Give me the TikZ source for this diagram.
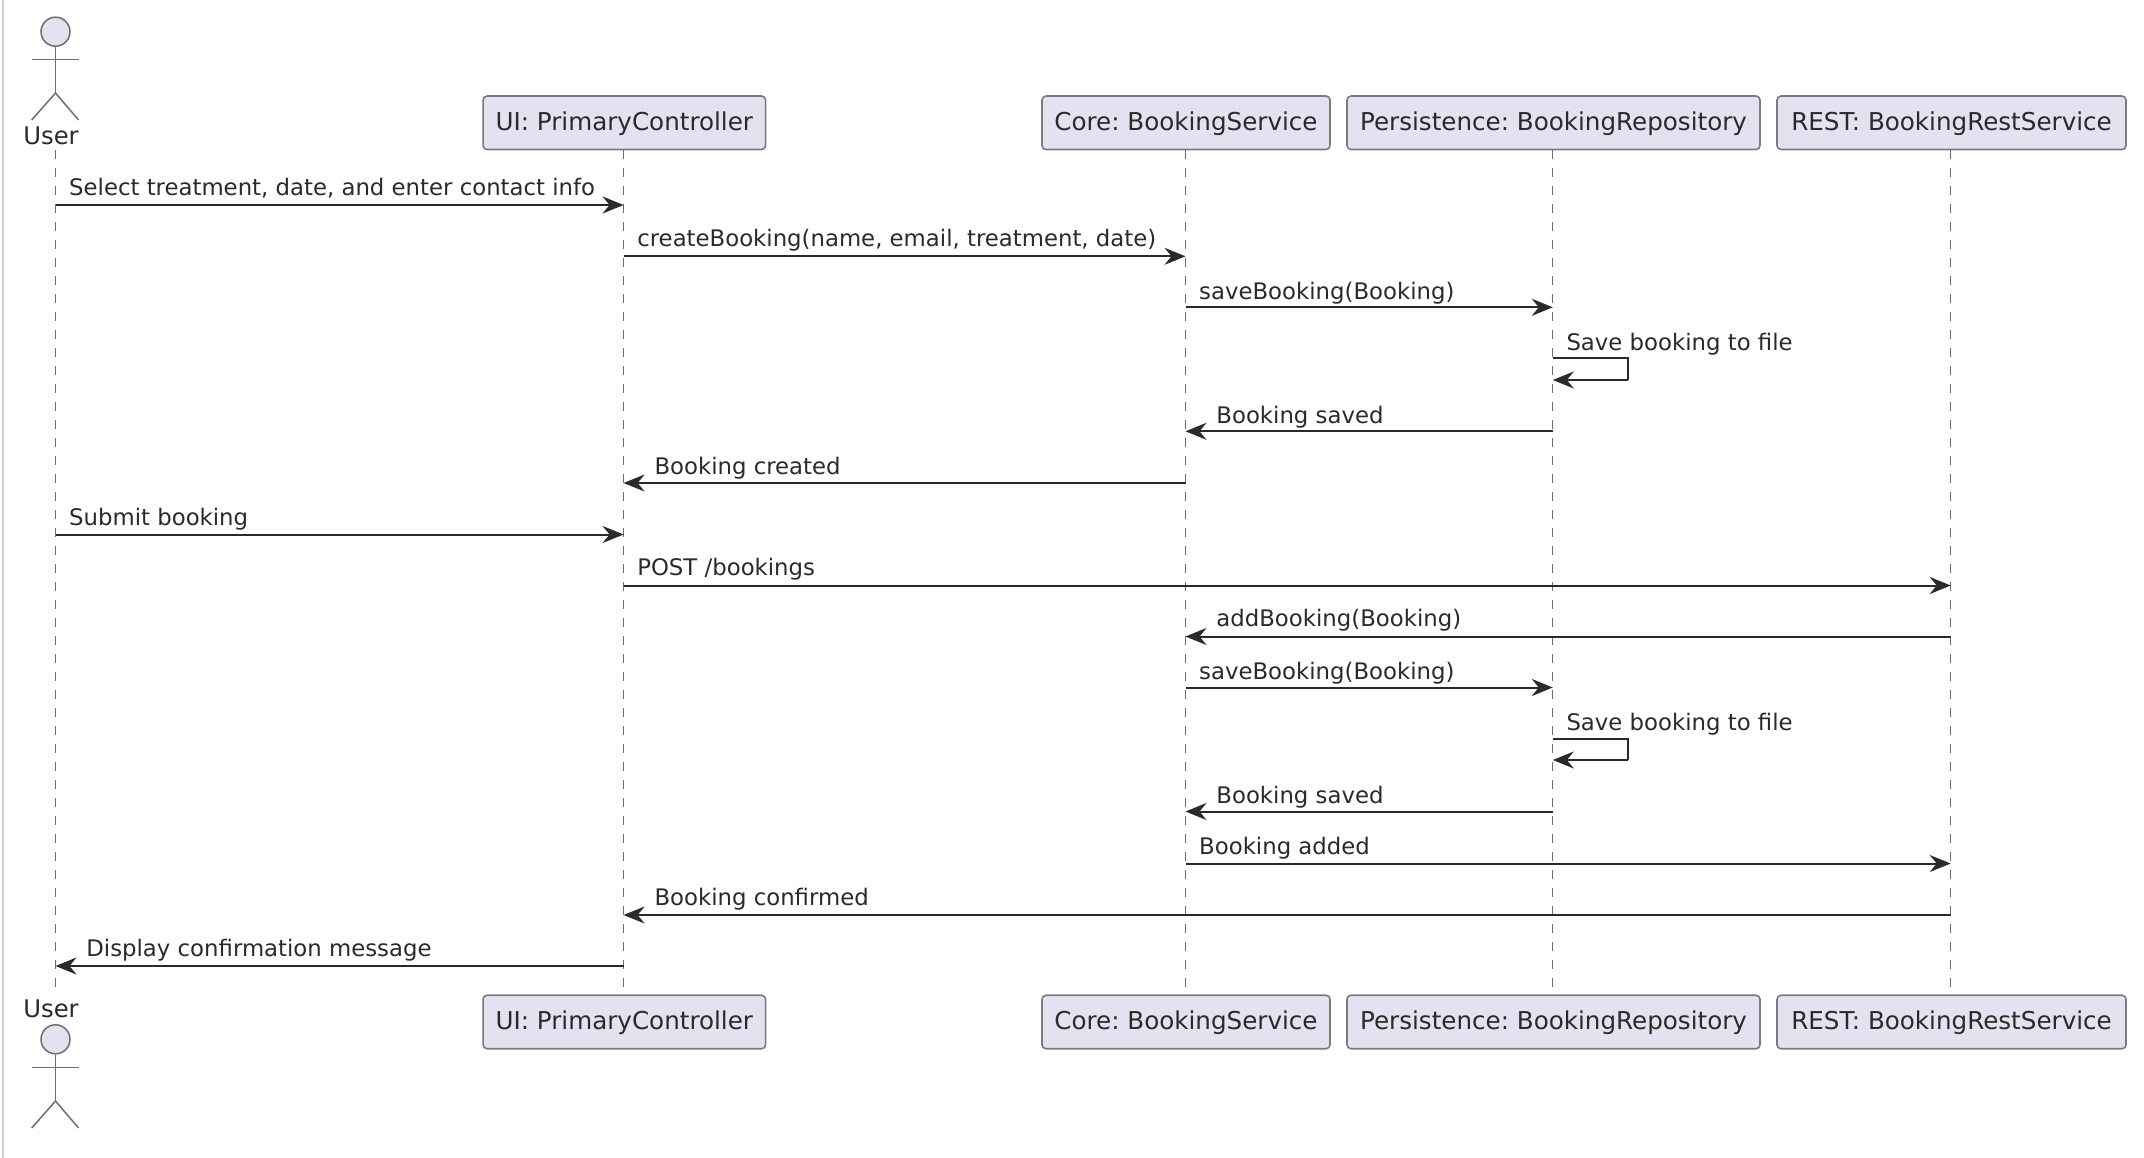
\documentclass[tikz,border=0pt]{standalone}
\usepackage{fontspec}
\setmainfont{DejaVu Sans}
\usetikzlibrary{arrows.meta}
\definecolor{boxfill}{HTML}{E2E2F0}
\definecolor{boxline}{HTML}{7A7A7F}
\definecolor{lifec}{HTML}{6E6E6E}
\definecolor{msgc}{HTML}{2A2A2A}
\definecolor{edge}{HTML}{CFCFCF}
\tikzset{
  x=1pt,y=-1pt,
  part/.style={draw=boxline,line width=1.6pt,fill=boxfill,rounded corners=4pt,inner sep=0pt,
    minimum height=53.5pt,font=\fontsize{24.6pt}{28pt}\selectfont,text=msgc,text height=20.8pt,text depth=5pt},
  life/.style={draw=lifec,line width=1.3pt,dash pattern=on 9pt off 9pt},
  msg/.style={draw=msgc,line width=2pt,-{Stealth[length=21pt,width=17pt,inset=7pt]}},
  loopl/.style={draw=msgc,line width=2pt},
  mlabel/.style={anchor=base west,inner sep=0pt,font=\fontsize{22.8pt}{27pt}\selectfont,text=msgc},
  ulabel/.style={anchor=base,inner sep=0pt,font=\fontsize{24.3pt}{28pt}\selectfont,text=msgc},
  stick/.style={draw=lifec,line width=1.5pt},
  headc/.style={circle,draw=lifec,line width=1.5pt,fill=boxfill,minimum size=29pt,inner sep=0pt},
}
\begin{document}
\frenchspacing
\begin{tikzpicture}
\useasboundingbox (0,0) rectangle (2144,1158);
\draw[draw=edge,line width=2pt] (3,0) -- (3,1158);

% participants top
\node[part,minimum width=282.5pt] (uiT) at (624.3,122.8) {UI: PrimaryController};
\node[part,minimum width=288pt] (coreT) at (1186,122.8) {Core: BookingService};
\node[part,minimum width=413pt] (perT) at (1553.5,122.8) {Persistence: BookingRepository};
\node[part,minimum width=349pt] (restT) at (1951.5,122.8) {REST: BookingRestService};
% participants bottom
\node[part,minimum width=282.5pt] (uiB) at (624.3,1022) {UI: PrimaryController};
\node[part,minimum width=288pt] (coreB) at (1186,1022) {Core: BookingService};
\node[part,minimum width=413pt] (perB) at (1553.5,1022) {Persistence: BookingRepository};
\node[part,minimum width=349pt] (restB) at (1951.5,1022) {REST: BookingRestService};

% lifeline anchors, slightly left of the box centres
\coordinate (uiL) at ([xshift=-.7pt]uiT.south);
\coordinate (coreL) at ([xshift=-.5pt]coreT.south);
\coordinate (perL) at ([xshift=-.7pt]perT.south);
\coordinate (restL) at ([xshift=-.8pt]restT.south);

% actor top
\node[headc] (headT) at (55.5,31.7) {};
\coordinate (armLT) at (31.7,59.7);
\coordinate (armRT) at (78.6,59.7);
\coordinate (hipT) at (55.5,93);
\coordinate (legLT) at (31.7,120);
\coordinate (legRT) at (78.6,120);
\draw[stick] (headT.south) -- (hipT);
\draw[stick] (armLT) -- (armRT);
\draw[stick] (legLT) -- (hipT) -- (legRT);
\node[ulabel] (userT) at (51,144.8) {User};
\coordinate (lifeUT) at (55.5,150);
% actor bottom
\node[headc] (headB) at (55.5,1039.3) {};
\coordinate (armLB) at (31.7,1067.7);
\coordinate (armRB) at (78.6,1067.7);
\coordinate (hipB) at (55.5,1101);
\coordinate (legLB) at (31.7,1128);
\coordinate (legRB) at (78.6,1128);
\draw[stick] (headB.south) -- (hipB);
\draw[stick] (armLB) -- (armRB);
\draw[stick] (legLB) -- (hipB) -- (legRB);
\node[ulabel] (userB) at (51,1017) {User};
\coordinate (lifeUB) at (55.5,996);

% lifelines
\draw[life] (lifeUT) -- (lifeUB);
\draw[life] (uiL) -- (uiL |- uiB.north);
\draw[life] (coreL) -- (coreL |- coreB.north);
\draw[life] (perL) -- (perL |- perB.north);
\draw[life] (restL) -- (restL |- restB.north);

% message rows
\coordinate (r1) at (0,205);
\coordinate (r2) at (0,256.3);
\coordinate (r3) at (0,307.3);
\coordinate (r4) at (0,358);
\coordinate (r4b) at (0,380);
\coordinate (r5) at (0,431.3);
\coordinate (r6) at (0,483);
\coordinate (r7) at (0,534.5);
\coordinate (r8) at (0,585.5);
\coordinate (r9) at (0,636.5);
\coordinate (r10) at (0,687.5);
\coordinate (r11) at (0,738.5);
\coordinate (r11b) at (0,760);
\coordinate (r12) at (0,811.5);
\coordinate (r13) at (0,863.5);
\coordinate (r14) at (0,915);
\coordinate (r15) at (0,966);
\coordinate (loopx) at (1628,0);

\draw[msg] (lifeUT |- r1) -- (uiL |- r1);
\node[mlabel] (m1) at ([shift={(13.5,-9.1)}]lifeUT |- r1) {Select treatment, date, and enter contact info};
\draw[msg] (uiL |- r2) -- (coreL |- r2);
\node[mlabel] (m2) at ([shift={(13.5,-10)}]uiL |- r2) {createBooking(name, email, treatment, date)};
\draw[msg] (coreL |- r3) -- (perL |- r3);
\node[mlabel] (m3) at ([shift={(13.5,-7.8)}]coreL |- r3) {saveBooking(Booking)};
\draw[loopl] (perL |- r4) -- (loopx |- r4) -- (loopx |- r4b);
\draw[msg] (loopx |- r4b) -- (perL |- r4b);
\node[mlabel] (m4) at ([shift={(13.5,-7.8)}]perL |- r4) {Save booking to file};
\draw[msg] (perL |- r5) -- (coreL |- r5);
\node[mlabel] (m5) at ([shift={(30.7,-7.8)}]coreL |- r5) {Booking saved};
\draw[msg] (coreL |- r6) -- (uiL |- r6);
\node[mlabel] (m6) at ([shift={(30.7,-8.6)}]uiL |- r6) {Booking created};
\draw[msg] (lifeUT |- r7) -- (uiL |- r7);
\node[mlabel] (m7) at ([shift={(13.5,-9.1)}]lifeUT |- r7) {Submit booking};
\draw[msg] (uiL |- r8) -- (restL |- r8);
\node[mlabel] (m8) at ([shift={(13.5,-10)}]uiL |- r8) {POST /bookings};
\draw[msg] (restL |- r9) -- (coreL |- r9);
\node[mlabel] (m9) at ([shift={(30.7,-10)}]coreL |- r9) {addBooking(Booking)};
\draw[msg] (coreL |- r10) -- (perL |- r10);
\node[mlabel] (m10) at ([shift={(13.5,-7.8)}]coreL |- r10) {saveBooking(Booking)};
\draw[loopl] (perL |- r11) -- (loopx |- r11) -- (loopx |- r11b);
\draw[msg] (loopx |- r11b) -- (perL |- r11b);
\node[mlabel] (m11) at ([shift={(13.5,-7.8)}]perL |- r11) {Save booking to file};
\draw[msg] (perL |- r12) -- (coreL |- r12);
\node[mlabel] (m12) at ([shift={(30.7,-7.8)}]coreL |- r12) {Booking saved};
\draw[msg] (coreL |- r13) -- (restL |- r13);
\node[mlabel] (m13) at ([shift={(13.5,-9.1)}]coreL |- r13) {Booking added};
\draw[msg] (restL |- r14) -- (uiL |- r14);
\node[mlabel] (m14) at ([shift={(30.7,-9.1)}]uiL |- r14) {Booking confirmed};
\draw[msg] (uiL |- r15) -- (lifeUT |- r15);
\node[mlabel] (m15) at ([shift={(30.7,-9.1)}]lifeUT |- r15) {Display confirmation message};
\end{tikzpicture}
\end{document}
